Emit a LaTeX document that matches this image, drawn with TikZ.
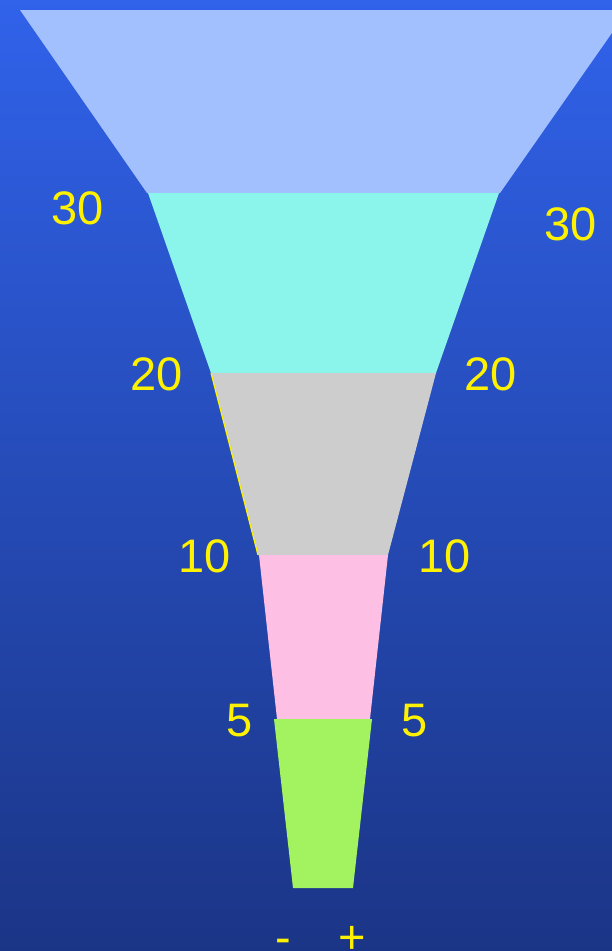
\documentclass[tikz,border=0pt]{standalone}
\usepackage{fontspec}
\setmainfont{Liberation Sans}
\begin{document}
\begin{tikzpicture}[x=1pt,y=-1pt,
  lbl/.style={text=yellow, font=\fontsize{47}{50}\selectfont, inner sep=0pt, anchor=center},
  sign/.style={text=yellow, font=\fontsize{47}{50}\selectfont, inner sep=0pt, anchor=base}]
\definecolor{bgtop}{HTML}{3062EA}
\definecolor{bgbot}{HTML}{1B3586}
\definecolor{lay1}{HTML}{A2BFFE}
\definecolor{lay2}{HTML}{8CF5EB}
\definecolor{lay3}{HTML}{CDCDCD}
\definecolor{lay4}{HTML}{FDBFE3}
\definecolor{lay5}{HTML}{A3F260}
\shade[top color=bgtop, bottom color=bgbot] (0,0) rectangle (612,951);
\useasboundingbox (0,0) rectangle (612,951);
\fill[lay1] (20,10) -- (628,10) -- (500,193) -- (147,193) -- cycle;
\fill[lay2] (148,193) -- (499,193) -- (436,373) -- (211,373) -- cycle;
\fill[lay3] (211,373) -- (436,373) -- (388,555) -- (258,555) -- cycle;
\draw[yellow, line width=1.2pt] (211,373) -- (258,555);
\fill[lay4] (259,555) -- (388,555) -- (370,719) -- (277,719) -- cycle;
\fill[lay5] (274,719) -- (372,719) -- (353,888) -- (293,888) -- cycle;
\node[lbl] (l30) at (78,208) {30};
\node[lbl] (r30) at (571,224) {30};
\node[lbl] (l20) at (157,374) {20};
\node[lbl] (r20) at (491,374) {20};
\node[lbl] (l10) at (205,556) {10};
\node[lbl] (r10) at (445,556) {10};
\node[lbl] (l5) at (240,721) {5};
\node[lbl] (r5) at (415,721) {5};
\node[sign] (mi) at (283,953) {-};
\node[sign] (pl) at (352,953) {+};
\end{tikzpicture}
\end{document}
